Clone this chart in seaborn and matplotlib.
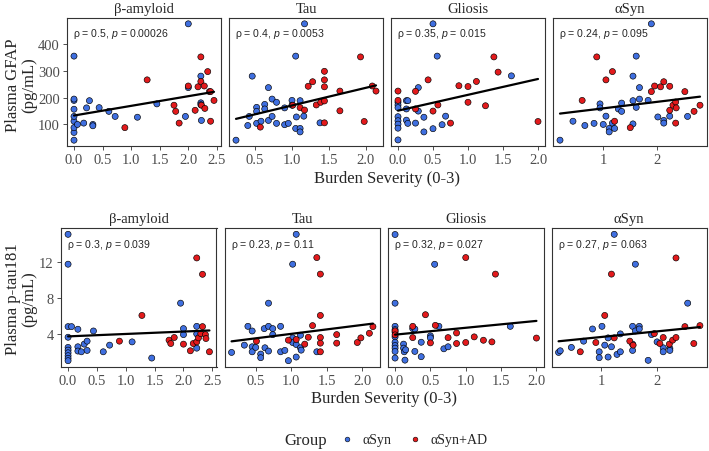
import matplotlib
matplotlib.use("Agg")
import matplotlib.pyplot as plt
import pandas as pd
import seaborn as sns
from matplotlib.lines import Line2D
from matplotlib.ticker import FormatStrFormatter, MultipleLocator

# Panels and groups
panels = ["β-amyloid", "Tau", "Gliosis", "αSyn"]
groups = ["αSyn", "αSyn+AD"]
group_colors = ["#3f6fe0", "#e31a1c"]

# Plasma GFAP (pg/mL): (burden severity, value) pairs per panel and group
gfap_abeta_syn = [(0, 41), (0, 70), (0, 88), (0, 112), (0, 130), (0, 157), (0, 190), (0, 195),
                  (0, 356), (0.06, 100), (0.17, 105), (0.22, 162), (0.27, 189), (0.33, 100),
                  (0.33, 95), (0.44, 163), (0.61, 149), (0.72, 130), (1.11, 127), (1.45, 177),
                  (1.95, 130), (2.0, 477), (2.0, 238), (2.22, 281), (2.22, 181), (2.22, 174),
                  (2.23, 115)]
gfap_abeta_ad = [(0.89, 88), (1.28, 267), (1.75, 172), (1.78, 149), (1.84, 105), (2.0, 244),
                 (2.12, 153), (2.17, 241), (2.22, 353), (2.22, 261), (2.28, 244), (2.23, 172),
                 (2.29, 160), (2.34, 298), (2.37, 223), (2.39, 223), (2.39, 112), (2.45, 190)]
gfap_tau_syn = [(0.24, 41), (0.40, 96), (0.42, 130), (0.46, 281), (0.52, 104), (0.52, 164),
                (0.52, 149), (0.58, 112), (0.63, 175), (0.63, 158), (0.68, 115), (0.68, 238),
                (0.73, 195), (0.73, 130), (0.79, 183), (0.79, 104), (0.90, 99), (0.90, 162),
                (0.95, 104), (1.0, 190), (1.0, 172), (1.05, 356), (1.05, 85), (1.06, 128),
                (1.11, 85), (1.11, 72), (1.11, 189), (1.16, 131), (1.17, 477), (1.38, 106)]
gfap_tau_ad = [(0.57, 90), (1.01, 172), (1.11, 163), (1.17, 154), (1.22, 243), (1.28, 260),
               (1.33, 173), (1.39, 183), (1.44, 188), (1.44, 299), (1.44, 267), (1.44, 241),
               (1.44, 106), (1.65, 225), (1.65, 151), (1.93, 353), (1.98, 111), (2.09, 244),
               (2.14, 225)]
gfap_gliosis_syn = [(0.5, 477), (0.56, 356), (1.62, 282), (0.29, 238), (0, 183), (0, 173),
                    (0, 163), (0, 129), (0, 114), (0, 101), (0, 86), (0, 42), (0.12, 189),
                    (0.14, 189), (0.12, 158), (0.12, 116), (0.14, 104), (0.29, 150), (0.25, 105),
                    (0.37, 127), (0.37, 72), (0.5, 84), (0.63, 99), (0.68, 131)]
gfap_gliosis_ad = [(0, 225), (0, 190), (0.25, 224), (0.25, 158), (0.43, 267), (0.5, 150),
                   (0.57, 173), (0.75, 105), (0.87, 245), (1.0, 242), (1.0, 183), (1.12, 261),
                   (1.25, 170), (1.37, 353), (1.43, 296), (2.0, 111)]
gfap_asyn_syn = [(0.2, 41), (0.44, 112), (0.66, 96), (0.83, 104), (0.94, 177), (0.94, 162),
                 (1.0, 100), (1.05, 131), (1.11, 85), (1.11, 72), (1.17, 105), (1.21, 85),
                 (1.28, 158), (1.34, 180), (1.34, 149), (1.55, 281), (1.55, 102), (1.55, 189),
                 (1.61, 356), (1.61, 164), (1.67, 238), (1.67, 195), (1.83, 190), (1.89, 477),
                 (2.01, 128), (2.12, 115), (2.12, 105), (2.23, 131), (2.56, 130)]
gfap_asyn_ad = [(0.61, 190), (0.88, 353), (1.05, 267), (1.17, 298), (1.21, 112), (1.5, 88),
                (1.89, 223), (1.95, 244), (2.06, 241), (2.12, 260), (2.23, 243), (2.23, 153),
                (2.29, 172), (2.34, 184), (2.35, 162), (2.34, 105), (2.51, 223), (2.68, 149),
                (2.79, 172)]

# Plasma p-tau181 (pg/mL)
ptau_abeta_syn = [(0, 15.0), (0, 11.71), (0, 4.84), (0.06, 4.84), (0, 3.67), (0, 2.55),
                  (0, 2.25), (0, 1.96), (0, 1.64), (0, 1.35), (0, 1.09), (0.17, 4.55),
                  (0.17, 2.62), (0.17, 2.15), (0.23, 2.07), (0.28, 2.91), (0.33, 3.24),
                  (0.33, 2.22), (0.44, 4.36), (0.61, 2.07), (0.72, 2.8), (1.11, 3.16),
                  (1.45, 1.38), (1.95, 7.42), (2.0, 4.62), (2.0, 3.96), (2.23, 4.87),
                  (2.23, 4.04), (2.23, 2.47)]
ptau_abeta_ad = [(0.89, 3.24), (1.28, 6.07), (1.75, 3.35), (1.78, 2.98), (1.84, 3.64),
                 (2.0, 2.91), (2.12, 2.18), (2.17, 2.98), (2.23, 12.4), (2.23, 3.16),
                 (2.26, 3.6), (2.3, 4.07), (2.33, 4.84), (2.33, 10.6), (2.38, 3.96),
                 (2.39, 3.53), (2.45, 2.07)]
ptau_tau_syn = [(0.16, 2.0), (0.34, 2.8), (0.39, 4.87), (0.45, 4.36), (0.45, 2.62), (0.45, 2.07),
                (0.5, 2.55), (0.57, 1.82), (0.57, 1.42), (0.62, 4.62), (0.63, 2.51), (0.68, 4.87),
                (0.68, 7.42), (0.68, 2.15), (0.74, 4.62), (0.74, 3.96), (0.85, 4.87), (0.85, 2.07),
                (0.91, 2.22), (0.96, 1.09), (1.02, 11.71), (1.02, 3.6), (1.02, 3.09), (1.07, 15.0),
                (1.07, 1.49), (1.07, 2.87), (1.13, 3.89), (1.13, 2.51), (1.14, 2.25), (1.36, 2.07)]
ptau_tau_ad = [(0.51, 3.24), (0.96, 3.35), (1.07, 3.42), (1.19, 2.91), (1.24, 3.67), (1.3, 4.95),
               (1.36, 12.44), (1.41, 10.62), (1.41, 6.07), (1.41, 3.64), (1.41, 3.02), (1.41, 2.07),
               (1.64, 3.96), (1.64, 3.02), (1.93, 3.09), (1.98, 3.6), (2.1, 4.11), (2.15, 4.84)]
ptau_gliosis_syn = [(0, 14.98), (0, 7.42), (0, 4.87), (0, 4.51), (0, 4.22), (0, 3.71), (0, 3.12),
                    (0, 2.76), (0, 2.47), (0, 2.11), (0, 1.38), (0.12, 2.91), (0.12, 2.47),
                    (0.13, 2.07), (0.14, 1.15), (0.15, 2.29), (0.25, 4.62), (0.28, 4.58),
                    (0.28, 2.11), (0.37, 3.12), (0.37, 1.53), (0.5, 3.82), (0.5, 3.6), (0.56, 11.7),
                    (0.62, 4.87), (0.69, 2.4), (0.75, 2.62), (1.63, 4.87)]
ptau_gliosis_ad = [(0, 4.37), (0, 3.93), (0.25, 4.87), (0.25, 3.63), (0.43, 6.15), (0.5, 3.05),
                   (0.57, 4.98), (0.75, 3.63), (0.87, 4.14), (0.87, 2.98), (1.0, 12.44), (1.0, 3.09),
                   (1.12, 3.71), (1.25, 3.34), (1.37, 3.16), (1.42, 10.62), (2.0, 3.58)]
ptau_asyn_syn = [(0.23, 2.0), (0.26, 2.18), (0.46, 2.55), (0.68, 3.24), (0.84, 4.58), (0.96, 2.07),
                 (0.96, 1.42), (1.01, 4.87), (1.06, 2.8), (1.12, 3.6), (1.12, 1.49), (1.18, 2.62),
                 (1.23, 15.0), (1.28, 1.78), (1.34, 2.07), (1.34, 4.04), (1.56, 4.87), (1.56, 2.91),
                 (1.56, 2.22), (1.61, 11.71), (1.61, 4.36), (1.68, 4.87), (1.68, 4.58), (1.84, 1.13),
                 (1.9, 3.96), (2.0, 3.16), (2.11, 2.51), (2.11, 2.07), (2.23, 2.44), (2.23, 2.22),
                 (2.55, 7.42)]
ptau_asyn_ad = [(0.62, 2.07), (0.9, 3.09), (1.06, 6.07), (1.18, 10.62), (1.23, 3.6), (1.51, 3.24),
                (1.57, 2.8), (1.95, 4.07), (2.05, 2.98), (2.11, 3.64), (2.22, 2.91), (2.28, 3.35),
                (2.34, 3.64), (2.34, 12.4), (2.5, 4.84), (2.66, 2.98), (2.77, 4.95)]

# Spearman results printed in each panel
gfap_rho = ["0.5", "0.4", "0.35", "0.24"]
gfap_p = ["0.00026", "0.0053", "0.015", "0.095"]
ptau_rho = ["0.3", "0.23", "0.32", "0.27"]
ptau_p = ["0.039", "0.11", "0.027", "0.063"]

gfap_sets = [(gfap_abeta_syn, gfap_abeta_ad), (gfap_tau_syn, gfap_tau_ad),
             (gfap_gliosis_syn, gfap_gliosis_ad), (gfap_asyn_syn, gfap_asyn_ad)]
ptau_sets = [(ptau_abeta_syn, ptau_abeta_ad), (ptau_tau_syn, ptau_tau_ad),
             (ptau_gliosis_syn, ptau_gliosis_ad), (ptau_asyn_syn, ptau_asyn_ad)]

W, H = 709, 452
SERIF = ["Liberation Serif", "DejaVu Serif"]
SANS = ["Liberation Sans", "DejaVu Sans"]

sns.set_style("white")
plt.rcParams["font.family"] = SERIF
plt.rcParams["mathtext.fontset"] = "custom"
plt.rcParams["mathtext.rm"] = "Liberation Sans"
plt.rcParams["mathtext.it"] = "Liberation Sans:italic"


def to_frame(pair):
    rows = []
    for group, points in zip(groups, pair):
        for x, y in points:
            rows.append({"burden": x, "value": y, "Group": group})
    return pd.DataFrame(rows)


def box(left, top, width, height):
    return [left / W, 1 - (top + height) / H, width / W, height / H]


def draw_row(fig, sets, rhos, ps, lefts, top, width, height, ystep, ylabel, ylabel_y, xlabel_y):
    frames = [to_frame(pair) for pair in sets]
    all_y = pd.concat(frames)["value"]
    pad = (all_y.max() - all_y.min()) * 0.05
    ylim = (all_y.min() - pad, all_y.max() + pad)
    for i, frame in enumerate(frames):
        ax = fig.add_axes(box(lefts[i], top, width, height))
        sns.scatterplot(
            data=frame, x="burden", y="value", hue="Group", hue_order=groups,
            palette=dict(zip(groups, group_colors)), s=19, edgecolor="black",
            linewidth=0.45, legend=False, ax=ax, zorder=2,
        )
        sns.regplot(
            data=frame, x="burden", y="value", scatter=False, ci=None,
            line_kws={"color": "black", "lw": 1.6}, ax=ax,
        )
        ax.set_ylim(ylim)
        ax.yaxis.set_major_locator(MultipleLocator(ystep))
        if i == 3:
            ax.xaxis.set_major_locator(MultipleLocator(1))
            ax.xaxis.set_major_formatter(FormatStrFormatter("%d"))
        else:
            ax.xaxis.set_major_locator(MultipleLocator(0.5))
            ax.xaxis.set_major_formatter(FormatStrFormatter("%.1f"))
        ax.set_xlabel("")
        ax.set_ylabel("")
        ax.set_title(panels[i], fontsize=10.5, pad=4)
        ax.tick_params(length=3, width=0.6, color="#333333", labelcolor="#4d4d4d",
                       labelsize=10.5, pad=2.2, left=(i == 0), bottom=True,
                       labelleft=(i == 0))
        for spine in ax.spines.values():
            spine.set_color("#333333")
            spine.set_linewidth(0.8)
        ax.text(0.04, 0.885, f"ρ = {rhos[i]}, $p$ = {ps[i]}", transform=ax.transAxes,
                fontsize=7.6, family=SANS, ha="left", va="center")
    fig.text(21 / W, 1 - ylabel_y / H, ylabel, rotation=90, ha="center", va="center",
             multialignment="center", fontsize=12, linespacing=1.0)
    fig.text((lefts[0] + 707) / 2 / W, 1 - xlabel_y / H, "Burden Severity (0-3)",
             ha="center", va="center", fontsize=12)


fig = plt.figure(figsize=(W / 100, H / 100), dpi=100)

draw_row(fig, gfap_sets, gfap_rho, gfap_p, [67, 229, 391, 553], 19, 154, 128, 100,
         "Plasma GFAP\n(pg/mL)", 85, 179)
draw_row(fig, ptau_sets, ptau_rho, ptau_p, [61, 224.5, 388, 551.5], 229, 155.5, 139, 4,
         "Plasma p-tau181\n(pg/mL)", 299, 399)

handles = [
    Line2D([], [], ls="", marker="o", markersize=3.4, markerfacecolor=c,
           markeredgecolor="black", markeredgewidth=0.4)
    for c in group_colors
]
fig.text(306 / W, 1 - 441 / H, "Group", ha="center", va="center", fontsize=12)
fig.legend(handles, groups, ncol=2, loc="center", bbox_to_anchor=(414 / W, 1 - 441 / H),
           frameon=False, fontsize=10, handlelength=1.0, handletextpad=0.6,
           columnspacing=1.2)

fig.savefig("out.png", dpi=100)
